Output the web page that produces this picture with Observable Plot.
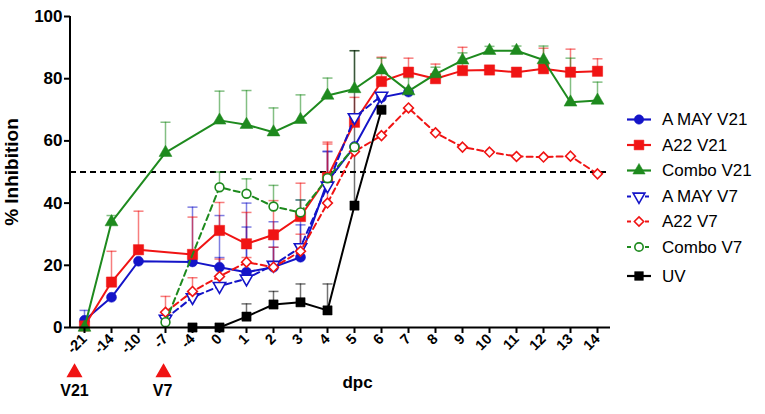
<!DOCTYPE html>
<html>
<head>
<meta charset="utf-8">
<script src="https://cdn.jsdelivr.net/npm/d3@7"></script>
<script src="https://cdn.jsdelivr.net/npm/@observablehq/plot@0.6"></script>
<style>
  html, body { margin: 0; padding: 0; background: white; }
  #wrap { position: relative; width: 765px; height: 414px; font-family: "Liberation Sans", Arial, sans-serif; }
  #legend { position: absolute; left: 0; top: 0; pointer-events: none; }
</style>
</head>
<body>
<div id="wrap"></div>
<script>
// ---- data ----
const dpc = ["-21","-14","-10","-7","-4","0","1","2","3","4","5","6","7","8","9","10","11","12","13","14"];

const aMayV21    = [2.3, 9.7, 21.3, null, 21.1, 19.4, 17.8, 19.4, 22.6, 47, 58.2, 74, 75.7, null, null, null, null, null, null, null];
const aMayV21Err = [5.5, null, null, null, 38.7, 36, 40, 34, 41, 56.5, null, null, null, null, null, null, null, null, null, null];

const a22V21     = [0.5, 14.6, 25, null, 23.5, 31.2, 26.9, 29.8, 35.7, 48.3, 66, 79.1, 82.1, 80, 82.6, 82.8, 82.1, 83.2, 82.1, 82.4];
const a22V21Err  = [null, 24.5, 37.4, null, 35.5, 40.2, 37, 40.8, 46.4, 59.6, 74, 86.9, 86.6, 84.7, 90.1, null, null, 89.8, 89.5, 86.4];

const comboV21    = [0, 33.9, null, 56.2, null, 66.6, 65.2, 62.8, 66.8, 74.6, 76.7, 82.7, 76, 81.5, 85.9, 89, 89, 86, 72.4, 73];
const comboV21Err = [null, 36, null, 66, null, 76, 76.2, 70.6, 74.8, 80.2, 89, 86.6, 80.3, 83.7, 88.3, 90.4, 90.5, 90.5, 86.6, 78.9];

const aMayV7    = [null, null, null, 2.8, 9.7, 13.3, 15.7, 20.1, 25.8, 45.6, 67.6, 74.5, null, null, null, null, null, null, null, null];
const aMayV7Err = [null, null, null, null, null, 22.5, 32.3, 25.8, 33, 56.7, null, null, null, null, null, null, null, null, null, null];

const a22V7    = [null, null, null, 4.9, 11.6, 16.4, 21, 19.4, 24.5, 40, 56.6, 61.7, 70.6, 62.6, 58, 56.4, 55, 54.8, 55.1, 49.4];
const a22V7Err = [null, null, null, 10, 16, 22, 22.5, 25.8, 30, 59, null, null, null, null, null, null, null, null, null, null];

const comboV7    = [null, null, null, 1.7, null, 45.1, 43, 38.9, 37, 48, 58, null, null, null, null, null, null, null, null, null];
const comboV7Err = [null, null, null, null, null, 50, 47.8, 45.7, 41, null, null, null, null, null, null, null, null, null, null, null];

const uv    = [null, null, null, null, 0, 0, 3.5, 7.4, 8.1, 5.5, 39.2, 70, null, null, null, null, null, null, null, null];
const uvErr = [null, null, null, null, null, null, 7.6, 11.6, 14, 14, 89, null, null, null, null, null, null, null, null, null];

const seriesNames = ["A MAY V21", "A22 V21", "Combo V21", "A MAY V7", "A22 V7", "Combo V7", "UV"];
const vaccinations = ["-21", "-7"];
const vaccinationLabels = ["V21", "V7"];
const threshold = [50];
const yTicks = [0, 20, 40, 60, 80, 100];

// ---- styles ----
const BLUE = "#1414c8", RED = "#f01414", GREEN = "#1e8a1e", BLACK = "#000";

const triDown = {
  draw(ctx, size) {
    const y = -Math.sqrt(size / (Math.sqrt(3) * 3));
    ctx.moveTo(0, -2 * y);
    ctx.lineTo(-Math.sqrt(3) * y, y);
    ctx.lineTo(Math.sqrt(3) * y, y);
    ctx.closePath();
  }
};
const cap = { draw(ctx) { ctx.moveTo(-5, 0); ctx.lineTo(5, 0); } };

const defs = [
  {name: seriesNames[0], v: aMayV21, e: aMayV21Err, color: BLUE, symbol: "circle", r: 5, open: false, dash: null},
  {name: seriesNames[1], v: a22V21, e: a22V21Err, color: RED, symbol: "square", r: 5.8, open: false, dash: null},
  {name: seriesNames[2], v: comboV21, e: comboV21Err, color: GREEN, symbol: "triangle", r: 4.8, open: false, dash: null},
  {name: seriesNames[3], v: aMayV7, e: aMayV7Err, color: BLUE, symbol: triDown, r: 4.6, open: true, dash: "6,4"},
  {name: seriesNames[4], v: a22V7, e: a22V7Err, color: RED, symbol: "diamond2", r: 4.4, open: true, dash: "6,4"},
  {name: seriesNames[5], v: comboV7, e: comboV7Err, color: GREEN, symbol: "circle", r: 4.4, open: true, dash: "6,4"},
  {name: seriesNames[6], v: uv, e: uvErr, color: BLACK, symbol: "square", r: 5.2, open: false, dash: null}
];

function rowsOf(d) {
  const out = [];
  d.v.forEach((v, i) => { if (v != null) out.push({dpc: dpc[i], v, err: d.e[i]}); });
  return out;
}

const marks = [];
marks.push(Plot.ruleY(threshold, {stroke: "#000", strokeWidth: 2, strokeDasharray: "6,4"}));
for (const d of defs) {
  const rows = rowsOf(d);
  const er = rows.filter(r => r.err != null);
  marks.push(Plot.ruleX(er, {x: "dpc", y1: "v", y2: "err", stroke: d.color, strokeOpacity: 0.55, strokeWidth: 1.5}));
  marks.push(Plot.dot(er, {x: "dpc", y: "err", symbol: cap, r: 5, fill: "none", stroke: d.color, strokeOpacity: 0.55, strokeWidth: 1.5}));
}
for (const d of defs) {
  const rows = rowsOf(d);
  marks.push(Plot.line(rows, {x: "dpc", y: "v", stroke: d.color, strokeWidth: 2, strokeDasharray: d.dash}));
  marks.push(Plot.dot(rows, {x: "dpc", y: "v", symbol: d.symbol, r: d.r,
    fill: d.open ? "white" : d.color, stroke: d.color, strokeWidth: d.open ? 1.6 : 0.5}));
}
marks.push(Plot.ruleY([0], {stroke: "#000", strokeWidth: 2}));
marks.push(Plot.axisY({ticks: yTicks, tickSize: 6, tickPadding: 2, fontSize: 17, fontWeight: "bold", strokeWidth: 2, label: null}));
marks.push(Plot.axisX({tickRotate: -45, tickSize: 6, tickPadding: 3, fontSize: 14.5, fontWeight: "bold", strokeWidth: 2, label: null}));
// vaccination arrows
marks.push(Plot.dot([vaccinations[0]], {x: d => d, y: () => 0, symbol: "triangle", r: 5, fill: RED, stroke: RED, dy: 45, dx: -10}));
marks.push(Plot.dot([vaccinations[1]], {x: d => d, y: () => 0, symbol: "triangle", r: 5, fill: RED, stroke: RED, dy: 45, dx: -2}));
marks.push(Plot.text([0], {x: () => vaccinations[0], y: () => 0, text: () => vaccinationLabels[0], dy: 63, dx: -10, fontSize: 16, fontWeight: "bold", fill: "#000"}));
marks.push(Plot.text([0], {x: () => vaccinations[1], y: () => 0, text: () => vaccinationLabels[1], dy: 63, dx: -3, fontSize: 16, fontWeight: "bold", fill: "#000"}));
// axis titles
marks.push(Plot.text(["dpc"], {frameAnchor: "bottom", text: d => d, dy: 60, dx: 17, fontSize: 17, fontWeight: "bold", fill: "#000"}));
marks.push(Plot.text(["% Inhibition"], {frameAnchor: "left", textAnchor: "middle", text: d => d, rotate: -90, dx: -59, fontSize: 19, fontWeight: "bold", fill: "#000"}));

const chart = Plot.plot({
  width: 765, height: 414,
  marginLeft: 70, marginRight: 155, marginTop: 16, marginBottom: 87,
  style: {fontFamily: '"Liberation Sans", Arial, sans-serif', background: "white", color: "#000", overflow: "visible"},
  x: {type: "point", domain: dpc, padding: 0.5, label: null, axis: null},
  y: {domain: [0, 100], label: null, axis: null},
  marks
});
document.getElementById("wrap").appendChild(chart);

// left axis line
d3.select(chart).append("line")
  .attr("x1", 70).attr("x2", 70).attr("y1", 16).attr("y2", 328)
  .attr("stroke", "#000").attr("stroke-width", 2);

// legend
const leg = d3.select("#wrap").append("svg").attr("id", "legend").attr("width", 765).attr("height", 414);
const legY = [119.5, 145, 170.5, 196.5, 221.5, 247, 276];
defs.forEach((d, i) => {
  const g = leg.append("g").attr("transform", `translate(627,${legY[i]})`);
  g.append("line").attr("x1", 0).attr("x2", 24).attr("y1", 0).attr("y2", 0)
    .attr("stroke", d.color).attr("stroke-width", 2.2)
    .attr("stroke-dasharray", d.dash ? "4,5" : null);
  const sym = typeof d.symbol === "string"
    ? ({circle: d3.symbolCircle, square: d3.symbolSquare, triangle: d3.symbolTriangle, diamond2: d3.symbolDiamond2})[d.symbol]
    : d.symbol;
  g.append("path").attr("transform", "translate(12,0)")
    .attr("d", d3.symbol(sym, Math.PI * d.r * d.r * 0.9)())
    .attr("fill", d.open ? "white" : d.color).attr("stroke", d.color).attr("stroke-width", d.open ? 1.6 : 0.5);
  g.append("text").attr("x", 35).attr("y", 0).attr("dy", "0.35em")
    .attr("font-size", 17).attr("font-family", '"Liberation Sans", Arial, sans-serif')
    .attr("fill", "#000").text(d.name);
});
</script>
</body>
</html>
